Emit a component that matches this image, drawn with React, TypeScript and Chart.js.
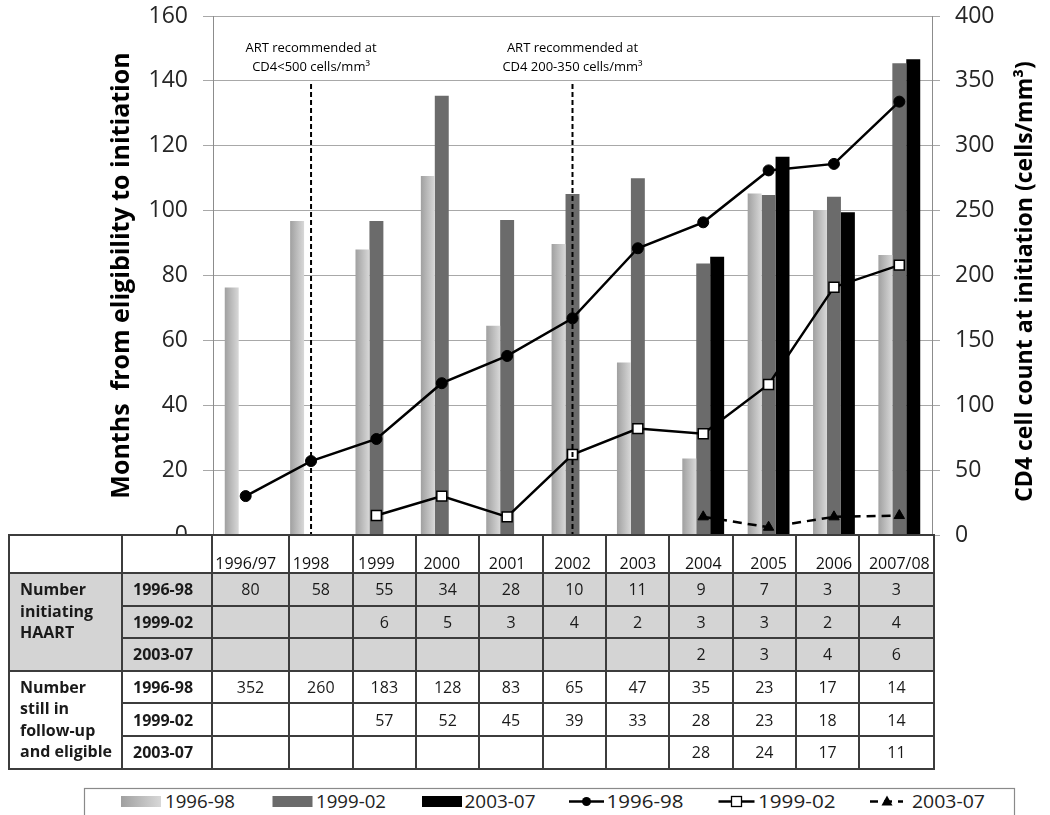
import React, { useEffect, useRef } from 'react';
import { Chart, registerables } from 'chart.js';

Chart.register(...registerables);

// ---------------- data ----------------
const CATEGORIES = ['1996/97', '1998', '1999', '2000', '2001', '2002', '2003', '2004', '2005', '2006', '2007/08'];

// Months from eligibility to initiation (bars, left axis)
const MONTHS_1996_98 = [76.3, 96.8, 88, 110.7, 64.5, 89.7, 53.2, 23.6, 105.3, 100.2, 86.3];
const MONTHS_1999_02 = [null, null, 96.8, 135.4, 97.1, 105.1, 110, 83.7, 104.8, 104.3, 145.4];
const MONTHS_2003_07 = [null, null, null, null, null, null, null, 85.8, 116.6, 99.5, 146.7];

// CD4 cell count at initiation (lines, right axis)
const CD4_1996_98 = [30, 57, 74, 117, 138, 167, 221, 241, 281, 286, 334];
const CD4_1999_02 = [null, null, 15, 30, 14, 62, 82, 78, 116, 191, 208];
const CD4_2003_07 = [null, null, null, null, null, null, null, 14, 6, 14, 15];

const LEFT_TICKS = { min: 0, max: 160, step: 20 };
const RIGHT_TICKS = { min: 0, max: 400, step: 50 };

const LEFT_TITLE = 'Months  from eligibility to initiation';
const RIGHT_TITLE = 'CD4 cell count at initiation (cells/mm³)';

const ANNOTATIONS = [
  { category: '1998', lines: ['ART recommended at', 'CD4<500 cells/mm³'] },
  { category: '2002', lines: ['ART recommended at', 'CD4 200-350 cells/mm³'] },
];

// table rows
const INIT_1996_98 = [80, 58, 55, 34, 28, 10, 11, 9, 7, 3, 3];
const INIT_1999_02 = [null, null, 6, 5, 3, 4, 2, 3, 3, 2, 4];
const INIT_2003_07 = [null, null, null, null, null, null, null, 2, 3, 4, 6];
const FOLLOW_1996_98 = [352, 260, 183, 128, 83, 65, 47, 35, 23, 17, 14];
const FOLLOW_1999_02 = [null, null, 57, 52, 45, 39, 33, 28, 23, 18, 14];
const FOLLOW_2003_07 = [null, null, null, null, null, null, null, 28, 24, 17, 11];
const PERIODS = ['1996-98', '1999-02', '2003-07'];

// ---------------- styles ----------------
const FONT = '"Open Sans", "Liberation Sans", sans-serif';
const LIGHT_A = '#a0a0a0';
const LIGHT_B = '#d8d8d8';
const DARK = '#6b6b6b';
const BLACK = '#000000';
const GRID = '#a8a8a8';

const W = 1050;
const H = 815;
// table column boundaries (px) and row heights
const COL_EDGES = [8, 121, 211, 288, 351.7, 415, 478.3, 541.7, 605, 668.3, 731.7, 795, 858.3, 932.7];
const HEADER_H = 38;
const ROW_H = 32.6;

const overlayPlugin = {
  id: 'overlay',
  beforeDatasetsDraw(chart: any) {
    const meta = chart.getDatasetMeta(0);
    meta.data.forEach((el: any) => {
      if (el.x == null || !isFinite(el.x)) return;
      const w = el.width || 14;
      const g = chart.ctx.createLinearGradient(el.x - w / 2, 0, el.x + w / 2, 0);
      g.addColorStop(0, LIGHT_A);
      g.addColorStop(1, LIGHT_B);
      el.options = { ...el.options, backgroundColor: g };
    });
  },
  afterDatasetsDraw(chart: any) {
    const { ctx, chartArea, scales } = chart;
    const xs = scales.x;
    const ys = scales.y;
    ctx.save();
    ANNOTATIONS.forEach((a) => {
      const px = xs.getPixelForValue(CATEGORIES.indexOf(a.category));
      ctx.setLineDash([5, 3]);
      ctx.lineWidth = 2;
      ctx.strokeStyle = '#000';
      ctx.beginPath();
      ctx.moveTo(px, ys.getPixelForValue(139));
      ctx.lineTo(px, chartArea.bottom);
      ctx.stroke();
      ctx.setLineDash([]);
      ctx.font = '13px ' + FONT;
      ctx.fillStyle = '#000';
      ctx.textAlign = 'center';
      ctx.textBaseline = 'middle';
      ctx.fillText(a.lines[0], px, chartArea.top + 32);
      ctx.fillText(a.lines[1], px, chartArea.top + 51);
    });
    ctx.restore();
  },
  afterDraw(chart: any) {
    const { ctx, chartArea } = chart;
    ctx.save();
    ctx.fillStyle = '#000';
    ctx.textAlign = 'center';
    ctx.textBaseline = 'middle';
    ctx.font = 'bold 25px ' + FONT;
    ctx.translate(122, (chartArea.top + chartArea.bottom) / 2);
    ctx.rotate(-Math.PI / 2);
    ctx.fillText(LEFT_TITLE, 0, 0);
    ctx.restore();
    ctx.save();
    ctx.fillStyle = '#000';
    ctx.textAlign = 'center';
    ctx.textBaseline = 'middle';
    ctx.font = 'bold 23px ' + FONT;
    ctx.translate(1025, (chartArea.top + chartArea.bottom) / 2 + 6);
    ctx.rotate(-Math.PI / 2);
    ctx.fillText(RIGHT_TITLE, 0, 0);
    ctx.restore();
  },
};

function ChartCanvas() {
  const ref = useRef<HTMLCanvasElement | null>(null);
  useEffect(() => {
    if (!ref.current) return;
    const tickFont = { family: FONT, size: 23 };
    const chart = new Chart(ref.current, {
      type: 'bar',
      data: {
        labels: CATEGORIES,
        datasets: [
          { type: 'bar', label: '1996-98', data: MONTHS_1996_98, backgroundColor: LIGHT_A, yAxisID: 'y', order: 1, categoryPercentage: 0.64, barPercentage: 1 },
          { type: 'bar', label: '1999-02', data: MONTHS_1999_02, backgroundColor: DARK, yAxisID: 'y', order: 1, categoryPercentage: 0.64, barPercentage: 1 },
          { type: 'bar', label: '2003-07', data: MONTHS_2003_07, backgroundColor: BLACK, yAxisID: 'y', order: 1, categoryPercentage: 0.64, barPercentage: 1 },
          {
            type: 'line', label: '1996-98', data: CD4_1996_98, yAxisID: 'y1', order: 0,
            borderColor: '#000', borderWidth: 2.5, pointStyle: 'circle', pointRadius: 5.5,
            pointBackgroundColor: '#000', pointBorderColor: '#000', pointBorderWidth: 1,
          },
          {
            type: 'line', label: '1999-02', data: CD4_1999_02, yAxisID: 'y1', order: 0,
            borderColor: '#000', borderWidth: 2.5, pointStyle: 'rect', pointRadius: 7,
            pointBackgroundColor: '#fff', pointBorderColor: '#000', pointBorderWidth: 1.5,
          },
          {
            type: 'line', label: '2003-07', data: CD4_2003_07, yAxisID: 'y1', order: 0,
            borderColor: '#000', borderWidth: 2.5, borderDash: [9, 6], pointStyle: 'triangle', pointRadius: 6,
            pointBackgroundColor: '#000', pointBorderColor: '#000', pointBorderWidth: 1,
          },
        ] as any,
      },
      options: {
        responsive: false,
        animation: false,
        devicePixelRatio: 1,
        layout: { padding: { top: 16, bottom: 220, left: 0, right: 0 } },
        plugins: { legend: { display: false }, tooltip: { enabled: false } },
        scales: {
          x: {
            position: 'bottom',
            grid: { display: false, drawTicks: false },
            border: { display: true, color: '#3c3c3c', width: 2 },
            ticks: { font: { family: FONT, size: 16 }, color: '#111', padding: 20, autoSkip: false, maxRotation: 0 },
            afterFit: (s: any) => { s.height = 60; s.paddingLeft = 0; s.paddingRight = 0; },
          },
          y: {
            position: 'left',
            min: LEFT_TICKS.min, max: LEFT_TICKS.max,
            ticks: { stepSize: LEFT_TICKS.step, font: tickFont, color: '#262626', padding: 15 },
            grid: { color: GRID, lineWidth: 1, tickLength: 10 },
            border: { display: true, color: '#8c8c8c', width: 1 },
            afterFit: (s: any) => { s.width = 213; s.paddingTop = 0; s.paddingBottom = 0; },
          },
          y1: {
            position: 'right',
            min: RIGHT_TICKS.min, max: RIGHT_TICKS.max,
            ticks: { stepSize: RIGHT_TICKS.step, font: tickFont, color: '#262626', padding: 15 },
            grid: { drawOnChartArea: false, color: GRID, tickLength: 8 },
            border: { display: true, color: '#8c8c8c', width: 1 },
            afterFit: (s: any) => { s.width = 118; s.paddingTop = 0; s.paddingBottom = 0; },
          },
        },
      } as any,
      plugins: [overlayPlugin],
    });
    return () => chart.destroy();
  }, []);
  return <canvas ref={ref} width={W} height={H} style={{ position: 'absolute', left: 0, top: 0, width: W, height: H }} />;
}

function DataTable() {
  const widths = COL_EDGES.slice(1).map((e, i) => e - COL_EDGES[i]);
  const total = COL_EDGES[COL_EDGES.length - 1] - COL_EDGES[0];
  const cellBorder = '2px solid #3c3c3c';
  const valCell = (v: number | null, key: number, bg: string) => (
    <td key={key} style={{ border: cellBorder, background: bg, textAlign: 'center', fontSize: 16, color: '#1a1a1a', padding: 0 }}>
      {v == null ? '' : v}
    </td>
  );
  const groups = [
    { title: ['Number', 'initiating', 'HAART'], rows: [INIT_1996_98, INIT_1999_02, INIT_2003_07], bg: '#d4d4d4' },
    { title: ['Number', 'still in', 'follow-up', 'and eligible'], rows: [FOLLOW_1996_98, FOLLOW_1999_02, FOLLOW_2003_07], bg: '#ffffff' },
  ];
  return (
    <table
      style={{
        position: 'absolute', left: COL_EDGES[0], top: 534, width: total, borderCollapse: 'collapse',
        tableLayout: 'fixed', fontFamily: FONT, color: '#1a1a1a',
      }}
    >
      <colgroup>
        {widths.map((w, i) => <col key={i} style={{ width: w }} />)}
      </colgroup>
      <tbody>
        <tr style={{ height: HEADER_H }}>
          <td style={{ border: cellBorder, background: '#fff' }} />
          <td style={{ border: cellBorder, background: '#fff' }} />
          {CATEGORIES.map((c, i) => <td key={i} style={{ border: cellBorder, background: 'transparent' }} />)}
        </tr>
        {groups.map((g, gi) =>
          g.rows.map((row, ri) => (
            <tr key={gi * 10 + ri} style={{ height: ROW_H }}>
              {ri === 0 && (
                <td
                  rowSpan={3}
                  style={{
                    border: cellBorder, background: g.bg, verticalAlign: 'top', fontWeight: 'bold', fontSize: 16,
                    lineHeight: '21.5px', paddingLeft: 10, paddingTop: 5, paddingRight: 0,
                  }}
                >
                  {g.title.map((t, k) => <div key={k} style={{ whiteSpace: 'nowrap' }}>{t}</div>)}
                </td>
              )}
              <td style={{ border: cellBorder, background: g.bg, fontWeight: 'bold', fontSize: 16, paddingLeft: 10, paddingTop: 0, paddingBottom: 0 }}>
                {PERIODS[ri]}
              </td>
              {row.map((v, k) => valCell(v, k, g.bg))}
            </tr>
          ))
        )}
      </tbody>
    </table>
  );
}

const LEGEND = [
  { kind: 'bar', fill: 'url(#lightGrad)', label: '1996-98', x: 121, tx: 165, tl: 70 },
  { kind: 'bar', fill: DARK, label: '1999-02', x: 272.5, tx: 316, tl: 70 },
  { kind: 'bar', fill: BLACK, label: '2003-07', x: 422, tx: 464.5, tl: 71 },
  { kind: 'circle', label: '1996-98', x: 569, tx: 606.5, tl: 77 },
  { kind: 'square', label: '1999-02', x: 718.5, tx: 758, tl: 77.5 },
  { kind: 'triangle', label: '2003-07', x: 870, tx: 912, tl: 73 },
];

function Legend() {
  const top = 780;
  return (
    <svg width={W} height={H - top} style={{ position: 'absolute', left: 0, top }}>
      <defs>
        <linearGradient id="lightGrad" x1="0" x2="1" y1="0" y2="0">
          <stop offset="0" stopColor={LIGHT_A} />
          <stop offset="1" stopColor={LIGHT_B} />
        </linearGradient>
      </defs>
      <rect x={84.5} y={8.5} width={930} height={45} fill="#fff" stroke="#8a8a8a" strokeWidth={1.2} />
      {LEGEND.map((l, i) => {
        const cy = 21.5;
        let icon: any = null;
        if (l.kind === 'bar') {
          icon = <rect x={l.x} y={16} width={40} height={11} fill={l.fill} />;
        } else if (l.kind === 'circle') {
          icon = (
            <g>
              <line x1={l.x} x2={l.x + 35} y1={cy} y2={cy} stroke="#000" strokeWidth={2.5} />
              <circle cx={l.x + 17.5} cy={cy} r={4.5} fill="#000" />
            </g>
          );
        } else if (l.kind === 'square') {
          icon = (
            <g>
              <line x1={l.x} x2={l.x + 36} y1={cy} y2={cy} stroke="#000" strokeWidth={2.5} />
              <rect x={l.x + 13} y={cy - 5} width={10} height={10} fill="#fff" stroke="#000" strokeWidth={1.3} />
            </g>
          );
        } else {
          icon = (
            <g>
              <line x1={l.x} x2={l.x + 33} y1={cy} y2={cy} stroke="#000" strokeWidth={2.5} strokeDasharray="8 6" />
              <polygon points={`${l.x + 17},${cy - 6} ${l.x + 22.5},${cy + 4} ${l.x + 11.5},${cy + 4}`} fill="#000" />
            </g>
          );
        }
        return (
          <g key={i}>
            {icon}
            <text x={l.tx} y={28} fontFamily={FONT} fontSize={18} fill="#222" textLength={l.tl} lengthAdjust="spacingAndGlyphs">
              {l.label}
            </text>
          </g>
        );
      })}
    </svg>
  );
}

export default function App() {
  return (
    <div style={{ position: 'fixed', left: 0, top: 0, width: W, height: H, overflow: 'hidden', background: '#fff', fontFamily: FONT }}>
      <ChartCanvas />
      <DataTable />
      <Legend />
    </div>
  );
}
